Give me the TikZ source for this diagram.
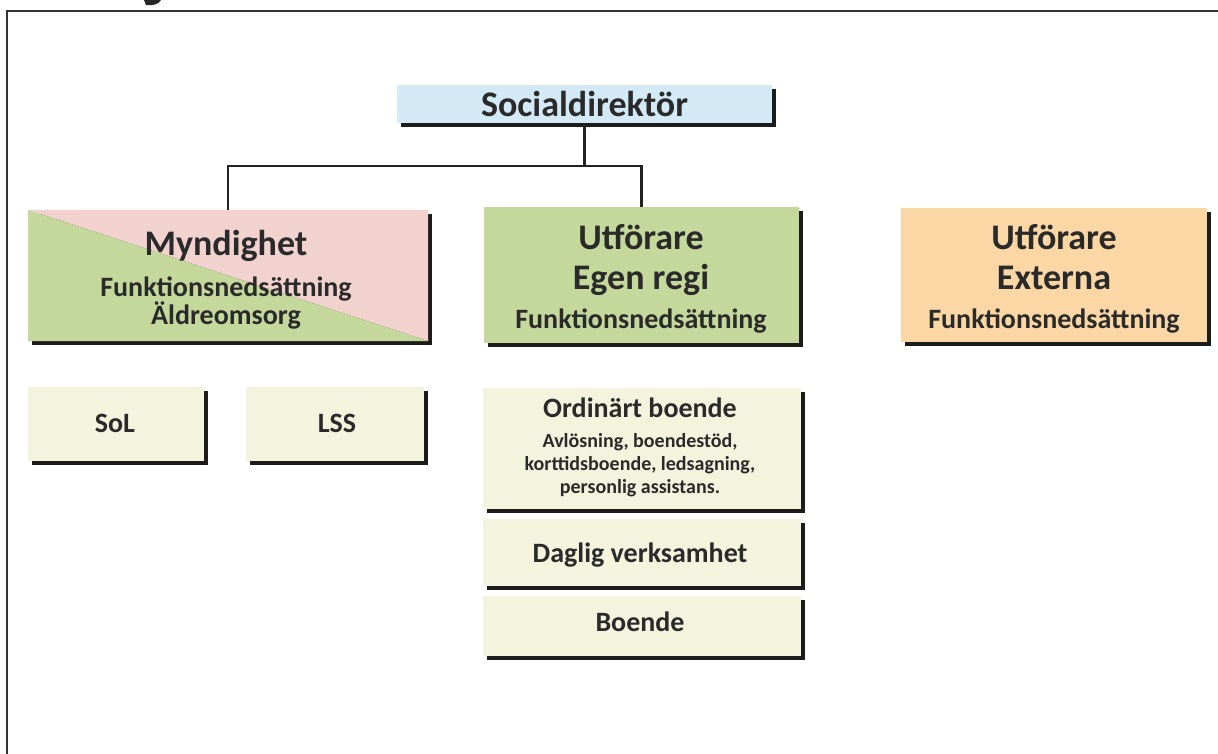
\documentclass[tikz,border=0pt]{standalone}
\usepackage{fontspec}
\setmainfont{Carlito}
\usetikzlibrary{shadows}
\definecolor{txt}{HTML}{2A2A2A}
\definecolor{shad}{HTML}{1C1C1C}
\definecolor{bluec}{HTML}{D3E9F6}
\definecolor{greenc}{HTML}{C4D89C}
\definecolor{pinkc}{HTML}{F1D2CE}
\definecolor{orangec}{HTML}{FAD7A4}
\definecolor{creamc}{HTML}{F3F3DE}
\definecolor{linec}{HTML}{222222}
\tikzset{
  box/.style={rectangle, inner sep=0pt, draw=none,
    general shadow={fill=shad, shadow xshift=4pt, shadow yshift=-4pt, rounded corners=3pt}},
  conn/.style={draw=linec, line width=2.4pt},
  big/.style={font=\fontsize{36}{38}\selectfont\bfseries, text=txt, anchor=base, inner sep=0pt},
  mid/.style={font=\fontsize{28}{30}\selectfont\bfseries, text=txt, anchor=base, inner sep=0pt},
  small/.style={font=\fontsize{20}{22}\selectfont\bfseries, text=txt, anchor=base, inner sep=0pt},
}
\begin{document}
\begin{tikzpicture}[x=1pt,y=-1pt]
\useasboundingbox (0,0) rectangle (1218,754);
\fill[white] (0,0) rectangle (1218,754);
% frame and cut-off letter
\draw[line width=2pt, draw=black!80] (7,754) -- (7,11) -- (1218,11);
\fill[black!85] (144,0) -- (161,0) .. controls (159,4) and (153,6) .. (146,5) -- cycle;

% boxes
\node[box, fill=bluec, minimum width=375pt, minimum height=38pt] (soc) at (584.5,104) {};
\node[box, minimum width=400pt, minimum height=131pt,
  path picture={
    \fill[pinkc] (path picture bounding box.north west) -- (path picture bounding box.north east) -- (path picture bounding box.south east) -- cycle;
    \fill[greenc] (path picture bounding box.north west) -- (path picture bounding box.south west) -- (path picture bounding box.south east) -- cycle;
  }] (myn) at (228,275.5) {};
\node[box, fill=greenc, minimum width=315pt, minimum height=136pt] (egen) at (641.5,275) {};
\node[box, fill=orangec, minimum width=306pt, minimum height=134pt] (ext) at (1054,275) {};
\node[box, fill=creamc, minimum width=176pt, minimum height=74pt] (sol) at (116,424) {};
\node[box, fill=creamc, minimum width=178pt, minimum height=74pt] (lss) at (335,424) {};
\node[box, fill=creamc, minimum width=318pt, minimum height=121pt] (ord) at (642,448.5) {};
\node[box, fill=creamc, minimum width=318pt, minimum height=67pt] (dag) at (642,552.5) {};
\node[box, fill=creamc, minimum width=318pt, minimum height=60pt] (boe) at (642,626) {};

% connectors
\coordinate (bus) at (0,166);
\draw[conn] (myn.north) |- (egen.north |- bus) -- (egen.north);
\draw[conn] (soc.south) -- (soc.south |- bus);

% texts
\node[big] (tsoc) at (584.5,117) {Socialdirektör};
\node[big] (tmyn) at (226,255) {Myndighet};
\node[mid, anchor=center, align=center, font=\fontsize{28}{23}\selectfont\bfseries] (tmyn2) at (226,303)
  {Funktionsnedsättning\\Äldreomsorg};
\node[big] (tegen1) at (641,249) {Utförare};
\node[big] (tegen2) at (641,289) {Egen regi};
\node[mid] (tegen3) at (641,328) {Funktionsnedsättning};
\node[big] (text1) at (1054,249) {Utförare};
\node[big] (text2) at (1054,289) {Externa};
\node[mid] (text3) at (1054,328) {Funktionsnedsättning};
\node[mid] (tsol) at (115,432) {SoL};
\node[mid] (tlss) at (337,432) {LSS};
\node[mid] (tord1) at (640,417) {Ordinärt boende};
\node[small] (tord2) at (640,447) {Avlösning, boendestöd,};
\node[small] (tord3) at (640,470) {korttidsboende, ledsagning,};
\node[small] (tord4) at (640,493) {personlig assistans.};
\node[mid] (tdag) at (640,562) {Daglig verksamhet};
\node[mid] (tboe) at (640,631) {Boende};
\end{tikzpicture}
\end{document}
